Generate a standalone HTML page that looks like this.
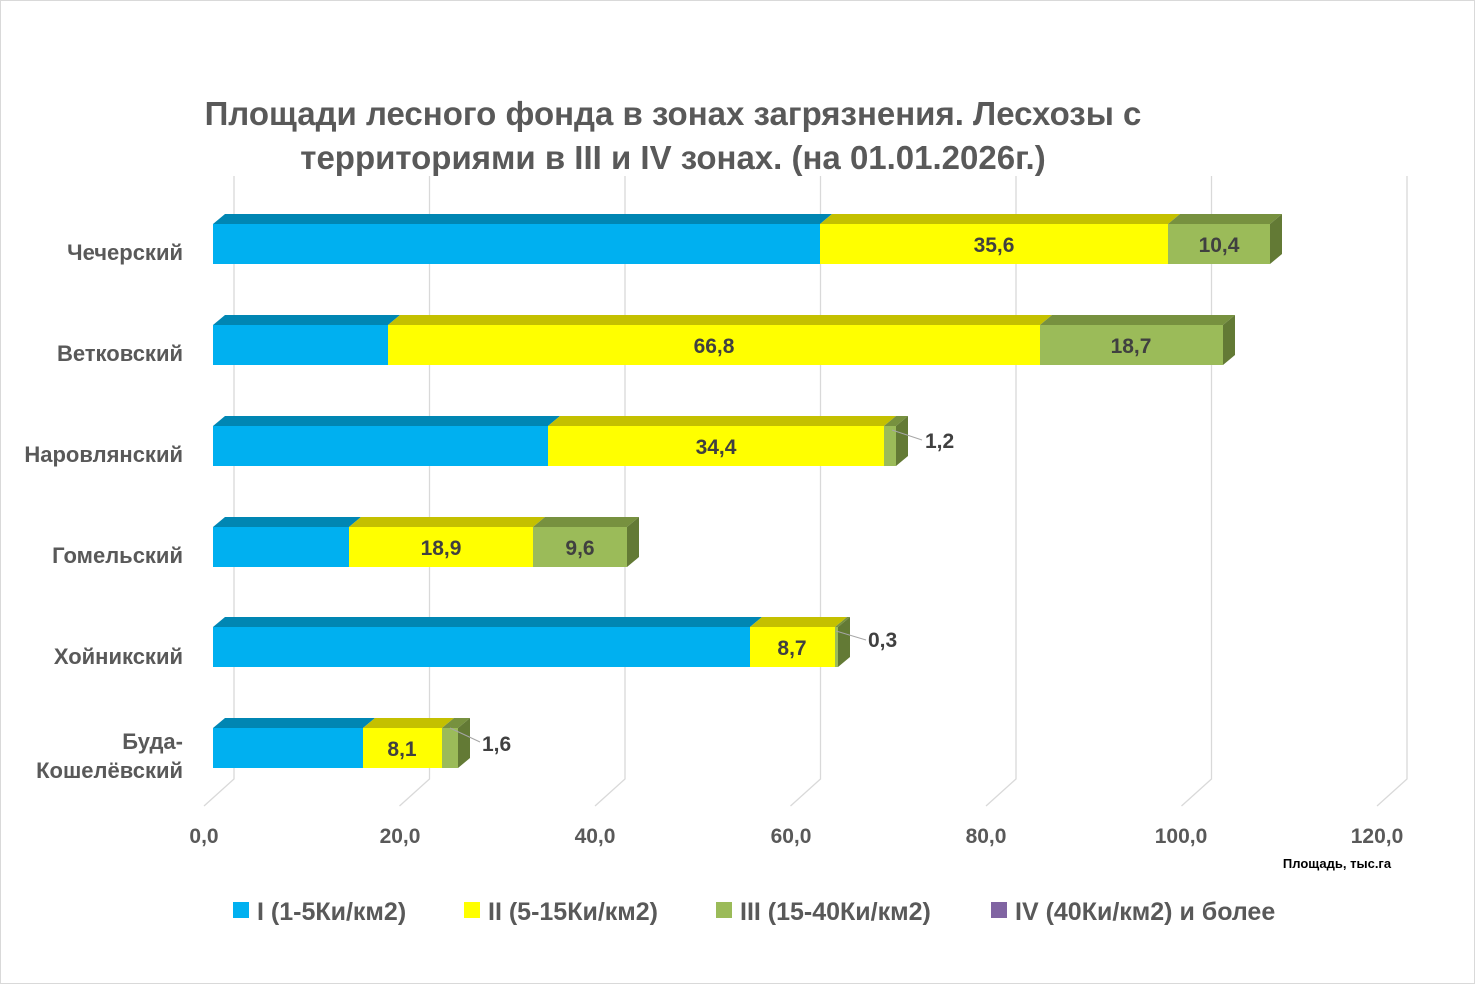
<!DOCTYPE html>
<html><head><meta charset="utf-8"><style>
body{margin:0;background:#fff}
</style></head><body>
<svg width="1475" height="984" xmlns="http://www.w3.org/2000/svg" font-family="Liberation Sans, sans-serif">
<rect x="0.5" y="0.5" width="1474" height="983" fill="#fff" stroke="#d9d9d9"/>
<g font-weight="bold" fill="#595959" font-size="33" text-anchor="middle">
<text x="673" y="125">Площади лесного фонда в зонах загрязнения. Лесхозы с</text>
<text x="673" y="169">территориями в III и IV зонах. (на 01.01.2026г.)</text>
</g>
<g stroke="#d9d9d9" stroke-width="1.3" fill="none">
<path d="M234,176V779L204,806"/><path d="M429.5,176V779L399.5,806"/><path d="M625,176V779L595,806"/><path d="M820.5,176V779L790.5,806"/><path d="M1016,176V779L986,806"/><path d="M1211.5,176V779L1181.5,806"/><path d="M1407,176V779L1377,806"/>
</g>
<g font-weight="bold" fill="#595959" font-size="21" text-anchor="middle">
<text x="204" y="843">0,0</text><text x="400" y="843">20,0</text><text x="595" y="843">40,0</text><text x="791" y="843">60,0</text><text x="986" y="843">80,0</text><text x="1181" y="843">100,0</text><text x="1377" y="843">120,0</text>
</g>
<text x="1337" y="868" font-size="13" font-weight="bold" fill="#000" text-anchor="middle">Площадь, тыс.га</text>
<g font-weight="bold" fill="#595959" font-size="22" text-anchor="end">
<text x="183" y="260">Чечерский</text>
<text x="183" y="361">Ветковский</text>
<text x="183" y="462">Наровлянский</text>
<text x="183" y="563">Гомельский</text>
<text x="183" y="664">Хойникский</text>
<text x="183" y="749">Буда-</text>
<text x="183" y="778">Кошелёвский</text>
</g>

<polygon points="213,224 225,214 832,214 820,224" fill="#0086b3"/>
<polygon points="820,224 832,214 1180,214 1168,224" fill="#c4c000"/>
<polygon points="1168,224 1180,214 1282,214 1270,224" fill="#77913f"/>
<rect x="213" y="224" width="607" height="40" fill="#00b0f0"/>
<rect x="820" y="224" width="348" height="40" fill="#ffff00"/>
<rect x="1168" y="224" width="102" height="40" fill="#9bbb59"/>
<polygon points="1270,224 1282,214 1282,254 1270,264" fill="#637a35"/>

<polygon points="213,325 225,315 400,315 388,325" fill="#0086b3"/>
<polygon points="388,325 400,315 1052,315 1040,325" fill="#c4c000"/>
<polygon points="1040,325 1052,315 1235,315 1223,325" fill="#77913f"/>
<rect x="213" y="325" width="175" height="40" fill="#00b0f0"/>
<rect x="388" y="325" width="652" height="40" fill="#ffff00"/>
<rect x="1040" y="325" width="183" height="40" fill="#9bbb59"/>
<polygon points="1223,325 1235,315 1235,355 1223,365" fill="#637a35"/>

<polygon points="213,426 225,416 560,416 548,426" fill="#0086b3"/>
<polygon points="548,426 560,416 896,416 884,426" fill="#c4c000"/>
<polygon points="884,426 896,416 908,416 896,426" fill="#77913f"/>
<rect x="213" y="426" width="335" height="40" fill="#00b0f0"/>
<rect x="548" y="426" width="336" height="40" fill="#ffff00"/>
<rect x="884" y="426" width="12" height="40" fill="#9bbb59"/>
<polygon points="896,426 908,416 908,456 896,466" fill="#637a35"/>

<polygon points="213,527 225,517 361,517 349,527" fill="#0086b3"/>
<polygon points="349,527 361,517 545,517 533,527" fill="#c4c000"/>
<polygon points="533,527 545,517 639,517 627,527" fill="#77913f"/>
<rect x="213" y="527" width="136" height="40" fill="#00b0f0"/>
<rect x="349" y="527" width="184" height="40" fill="#ffff00"/>
<rect x="533" y="527" width="94" height="40" fill="#9bbb59"/>
<polygon points="627,527 639,517 639,557 627,567" fill="#637a35"/>

<polygon points="213,627 225,617 762,617 750,627" fill="#0086b3"/>
<polygon points="750,627 762,617 847,617 835,627" fill="#c4c000"/>
<polygon points="835,627 847,617 850,617 838,627" fill="#77913f"/>
<rect x="213" y="627" width="537" height="40" fill="#00b0f0"/>
<rect x="750" y="627" width="85" height="40" fill="#ffff00"/>
<rect x="835" y="627" width="3" height="40" fill="#9bbb59"/>
<polygon points="838,627 850,617 850,657 838,667" fill="#637a35"/>

<polygon points="213,728 225,718 375,718 363,728" fill="#0086b3"/>
<polygon points="363,728 375,718 454,718 442,728" fill="#c4c000"/>
<polygon points="442,728 454,718 470,718 458,728" fill="#77913f"/>
<rect x="213" y="728" width="150" height="40" fill="#00b0f0"/>
<rect x="363" y="728" width="79" height="40" fill="#ffff00"/>
<rect x="442" y="728" width="16" height="40" fill="#9bbb59"/>
<polygon points="458,728 470,718 470,758 458,768" fill="#637a35"/>

<g stroke="#a6a6a6" stroke-width="1">
<line x1="892" y1="430" x2="922" y2="440"/>
<line x1="836" y1="631" x2="866" y2="640"/>
<line x1="450" y1="728" x2="480" y2="742"/>
</g>
<g font-weight="bold" fill="#404040" font-size="21" text-anchor="middle">
<text x="994" y="252">35,6</text><text x="1219" y="252">10,4</text>
<text x="714" y="353">66,8</text><text x="1131" y="353">18,7</text>
<text x="716" y="454">34,4</text>
<text x="441" y="555">18,9</text><text x="580" y="555">9,6</text>
<text x="792" y="655">8,7</text>
<text x="402" y="756">8,1</text>
</g>
<g font-weight="bold" fill="#404040" font-size="21">
<text x="925" y="448">1,2</text>
<text x="868" y="647">0,3</text>
<text x="482" y="751">1,6</text>
</g>

<g font-weight="bold" fill="#595959" font-size="25">
<rect x="233" y="902" width="16" height="16" fill="#00b0f0"/><text x="257" y="920">I (1-5Ки/км2)</text>
<rect x="464" y="902" width="16" height="16" fill="#ffff00"/><text x="488" y="920">II (5-15Ки/км2)</text>
<rect x="716" y="902" width="16" height="16" fill="#9bbb59"/><text x="740" y="920">III (15-40Ки/км2)</text>
<rect x="991" y="902" width="16" height="16" fill="#8064a2"/><text x="1015" y="920">IV (40Ки/км2) и более</text>
</g>
</svg>
</body></html>
